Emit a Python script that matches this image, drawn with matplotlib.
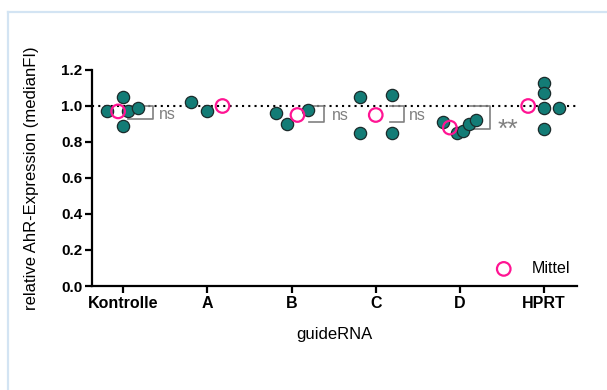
import numpy as np
import matplotlib.pyplot as plt
from matplotlib.lines import Line2D

plt.rcParams['font.family'] = ['Liberation Sans', 'DejaVu Sans']

# data
groups = ["Kontrolle", "A", "B", "C", "D", "HPRT"]
values = [
    [0.97, 1.05, 0.89, 0.97, 0.99],
    [1.02, 0.97],
    [0.96, 0.90, 0.98],
    [1.05, 0.85, 1.06, 0.85],
    [0.91, 0.85, 0.86, 0.90, 0.92],
    [1.13, 1.07, 0.99, 0.87, 0.99],
]
means = [0.97, 1.00, 0.95, 0.95, 0.88, 1.00]
# significance vs. reference line
sig_groups = ["Kontrolle", "B", "C", "D"]
sig_labels = ["ns", "ns", "ns", "**"]
sig_low = [0.93, 0.91, 0.91, 0.87]

# swarm layout (horizontal offsets within a column)
dot_offsets = [
    [-0.19, 0.0, 0.0, 0.06, 0.18],
    [-0.19, 0.0],
    [-0.19, -0.06, 0.19],
    [-0.19, -0.19, 0.19, 0.19],
    [-0.20, -0.04, 0.04, 0.11, 0.19],
    [0.0, 0.0, 0.0, 0.0, 0.18],
]
mean_offsets = [-0.06, 0.18, 0.07, 0.0, -0.12, -0.19]
bracket_x = {"Kontrolle": (0.06, 0.35), "B": (0.21, 0.39),
             "C": (0.17, 0.33), "D": (0.12, 0.36)}
label_dx = {"Kontrolle": 0.52, "B": 0.58, "C": 0.50, "D": 0.57}

teal = "#137c76"
pink = "#ff1493"
gray = "#808080"

fig = plt.figure(figsize=(6.07, 3.90), dpi=100)
ax = fig.add_axes([92/607, 1 - 286/390, (577 - 92)/607, (286 - 70)/390])

# light blue frame
fig.add_artist(Line2D([7.5/607, 7.5/607], [0, 1 - 12/390], color="#d3e4f3", lw=1.6,
                      transform=fig.transFigure))
fig.add_artist(Line2D([7.5/607, 1], [1 - 12/390, 1 - 12/390], color="#d3e4f3", lw=1.6,
                      transform=fig.transFigure))

xmin, xmax = -0.37, 5.39
ax.plot([xmin, xmax], [1.0, 1.0], color="black", lw=1.5, ls=(0, (1, 2)), zorder=1)

for i, g in enumerate(groups):
    xs = i + np.array(dot_offsets[i])
    ax.scatter(xs, values[i], s=78, color=teal, edgecolor="#1b2b2b", linewidth=0.9, zorder=3)
    ax.scatter(i + mean_offsets[i], means[i], s=95, facecolor="none", edgecolor=pink,
               linewidth=1.6, zorder=4)

for g, lab, low in zip(sig_groups, sig_labels, sig_low):
    i = groups.index(g)
    x0, x1 = bracket_x[g]
    ax.plot([i + x0, i + x1, i + x1, i + x0], [1.0, 1.0, low, low], color=gray, lw=1.2, zorder=2)
    if lab == "**":
        ax.text(i + label_dx[g], low + 0.0, lab, color=gray, fontsize=19,
                ha="center", va="center")
    else:
        ax.text(i + label_dx[g], (1.0 + low) / 2 - 0.01, lab, color=gray, fontsize=11.5,
                ha="center", va="center")

# legend
ax.scatter([4.52], [0.095], s=95, facecolor="none", edgecolor=pink, linewidth=1.6)
ax.text(4.85, 0.095, "Mittel", fontsize=11.5, va="center", ha="left")

ax.set_xlim(xmin, xmax)
ax.set_ylim(0, 1.2)
ax.set_xticks(range(len(groups)))
ax.set_xticklabels(groups, fontsize=11.5, fontweight="bold")
ax.set_yticks(np.arange(0, 1.21, 0.2))
ax.set_yticklabels([f"{v:.1f}" for v in np.arange(0, 1.21, 0.2)], fontsize=11, fontweight="bold")
ax.spines[["top", "right"]].set_visible(False)
for s in ["left", "bottom"]:
    ax.spines[s].set_linewidth(1.6)
ax.tick_params(width=1.6, length=5, pad=2)
ax.set_xlabel("guideRNA", fontsize=12, labelpad=12)
ax.set_ylabel("relative AhR-Expression (medianFI)", fontsize=12, labelpad=16)

fig.savefig("out.png", dpi=100)
